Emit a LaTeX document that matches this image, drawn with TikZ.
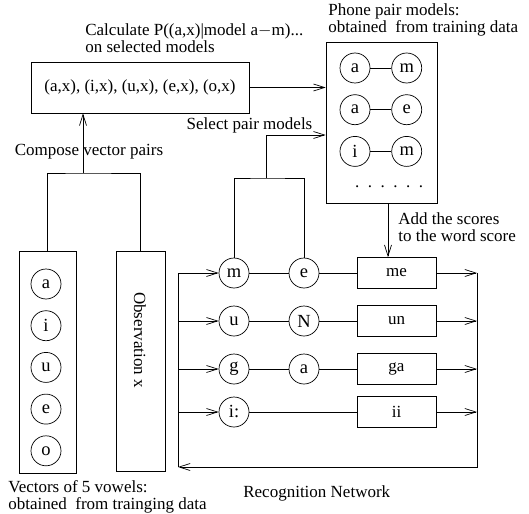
\documentclass[tikz,border=0pt]{standalone}
\usepackage{fontspec}
\setmainfont{Liberation Serif}
\usepackage{tikz}
\usetikzlibrary{arrows.meta,calc,positioning}
\tikzset{
	ph/.style={circle,draw,minimum size=30pt,inner sep=0pt,font=\fontsize{18.5}{18.5}\selectfont},
	bx/.style={draw,inner sep=0pt},
	word/.style={bx,minimum width=79pt,minimum height=31pt},
	txt/.style={align=left,anchor=west,inner sep=0pt},
	ar/.style={-{Straight Barb[length=11pt,width=7pt]}}
}

\begin{document}
\begin{tikzpicture}[x=1pt,y=-1pt,line width=0.7pt,font=\fontsize{17}{17}\selectfont,node distance=11pt and 21pt]
      \useasboundingbox (0,0) rectangle (529,513);
      \node [txt] at (85,38) {Calculate P((a,x)|model a$-$m)...\\on selected models};
      \node [bx,minimum width=218pt,minimum height=51pt] (calc) at (140,87.5) {(a,x), (i,x), (u,x), (e,x), (o,x)};
      \node [txt] at (328,20) {Phone pair models:\\obtained\ \ from training data};
      \node [bx,minimum width=111pt,minimum height=161pt] (pairs) at (381.5,122.5) {};
      \node [ph] (P1a) at (355,68) {a};
      \node [ph,right=of P1a] (P1b) {m};
      \node [ph,below=of P1a] (P2a) {a};
      \node [ph,right=of P2a] (P2b) {e};
      \node [ph,below=of P2a] (P3a) {i};
      \node [ph,right=of P3a] (P3b) {m};
      \node (dots) at (389,187) {.\ \ .\ \ .\ \ .\ \ .\ \ .};
      \draw (P1a) -- (P1b);
      \draw (P2a) -- (P2b);
      \draw (P3a) -- (P3b);
      \draw [ar] (calc) -- (calc -| pairs.west);
      \node [bx,minimum width=57pt,minimum height=222pt] (vow) at (47.5,362) {};
      \node [ph] (Va) at (46,284) {a};
      \node [ph,below=of Va] (Vi) {i};
      \node [ph,below=of Vi] (Vu) {u};
      \node [ph,below=of Vu] (Ve) {e};
      \node [ph,below=of Ve] (Vo) {o};
      \node [bx,minimum width=49pt,minimum height=220pt] (obs) at (140.5,361) {};
      \node [rotate=-90] at (140,340) {Observation x};
      \node (cmp) at (89,152) {Compose vector pairs};
      \coordinate (cv) at (83,173);
      \draw (vow.north) |- (cv) -| (obs.north);
      \draw [ar] (cv) -- (calc.south -| cv);
      \node [ph] (R1a) at (234,273) {m};
      \node [ph] (R1b) at (304,273) {e};
      \node [word] (W1) at (396.5,273) {me};
      \node [ph] (R2a) at (234,321) {u};
      \node [ph] (R2b) at (304,321) {N};
      \node [word] (W2) at (396.5,321) {un};
      \node [ph] (R3a) at (234,369) {g};
      \node [ph] (R3b) at (304,369) {a};
      \node [word] (W3) at (396.5,369) {ga};
      \node [ph] (R4a) at (234,412) {i:};
      \node [word] (W4) at (396.5,412) {ii};
      \draw (R1a) -- (R1b) -- (W1);
      \draw (R2a) -- (R2b) -- (W2);
      \draw (R3a) -- (R3b) -- (W3);
      \draw (R4a) -- (W4);
      \coordinate (rt) at (477,273);
      \coordinate (lb) at (178,467);
      \draw [ar] (rt) |- (lb);
      \draw (lb) -- (lb |- R1a);
      \foreach \r in {1,...,4} {
        \draw [ar] (W\r) -- (W\r -| rt);
        \draw [ar] (lb |- R\r a) -- (R\r a);
      }
      \coordinate (sp) at (266,178);
      \coordinate (sq) at (266,135);
      \draw (R1a.north) |- (sp) -| (R1b.north);
      \draw [ar] (sp) -- (sq) -- (sq -| pairs.west);
      \node [anchor=east] (sel) at (316,125) {Select pair models};
      \draw [ar] (pairs.south -| 388,0) -- (W1.north -| 388,0);
      \node [txt] at (398,227) {Add the scores\\to the word score};
      \node [txt] at (8,497) {Vectors of 5 vowels:\\obtained\ \ from trainging data};
      \node [txt] at (243,493) {Recognition Network};
\end{tikzpicture}
\end{document}
